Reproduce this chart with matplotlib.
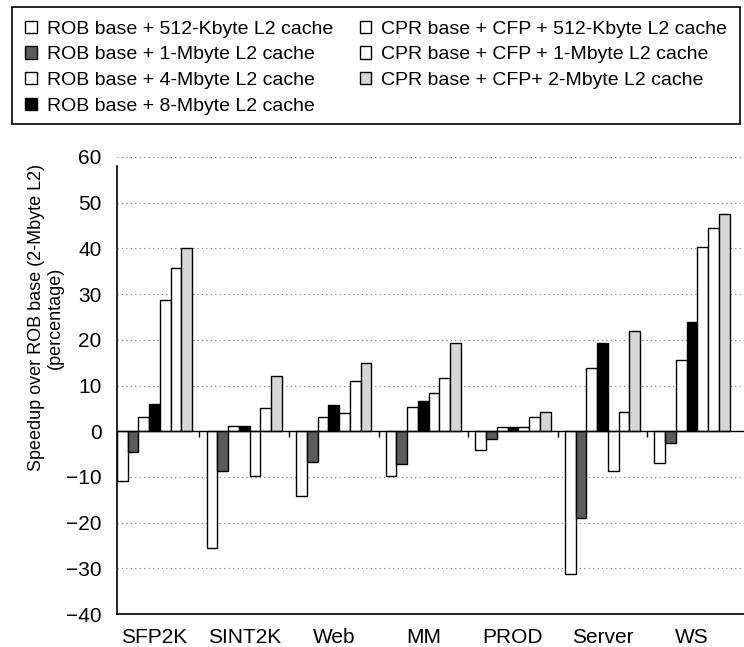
import numpy as np
import matplotlib
matplotlib.use("Agg")
import matplotlib.pyplot as plt

plt.rcParams['font.family'] = ['Liberation Sans', 'DejaVu Sans']

# Data (speedup in percent)
categories = ["SFP2K", "SINT2K", "Web", "MM", "PROD", "Server", "WS"]
rob_512k = [-11.0, -25.5, -14.2, -9.7, -4.2, -31.2, -7.0]
rob_1m = [-4.6, -8.7, -6.8, -7.2, -1.6, -19.0, -2.6]
rob_4m = [3.0, 1.2, 3.0, 5.4, 1.0, 13.9, 15.5]
rob_8m = [6.0, 1.2, 5.8, 6.7, 1.0, 19.3, 24.0]
cpr_512k = [28.8, -9.8, 4.0, 8.3, 1.0, -8.8, 40.3]
cpr_1m = [35.8, 5.0, 10.9, 11.7, 3.2, 4.2, 44.5]
cpr_2m = [40.0, 12.0, 15.0, 19.2, 4.3, 21.9, 47.5]

series = [rob_512k, rob_1m, rob_4m, rob_8m, cpr_512k, cpr_1m, cpr_2m]
labels = ["ROB base + 512-Kbyte L2 cache",
          "ROB base + 1-Mbyte L2 cache",
          "ROB base + 4-Mbyte L2 cache",
          "ROB base + 8-Mbyte L2 cache",
          "CPR base + CFP + 512-Kbyte L2 cache",
          "CPR base + CFP + 1-Mbyte L2 cache",
          "CPR base + CFP+ 2-Mbyte L2 cache"]
colors = ["white", "#5c5c5c", "white", "black", "white", "white", "#d6d6d6"]

fig = plt.figure(figsize=(7.44, 6.47), dpi=100)
ax = fig.add_axes([117 / 744, 33 / 647, 627 / 744, 457 / 647])

x = np.arange(len(categories))
w = 0.12
for j, (vals, lab, col) in enumerate(zip(series, labels, colors)):
    ax.bar(x + (j - 3) * w, vals, width=w, color=col, edgecolor="black",
           linewidth=1.0, label=lab, zorder=3)

ax.set_xlim(-0.42, 6.58)
ax.set_ylim(-40, 60)
ax.set_yticks(range(-40, 61, 10))
ax.set_yticklabels([str(v).replace("-", "\u2212") for v in range(-40, 61, 10)])
ax.set_xticks(x)
ax.set_xticklabels(categories)
ax.tick_params(axis="y", length=0, pad=11, labelsize=15)
ax.tick_params(axis="x", length=0, pad=10, labelsize=15)

ax.grid(axis="y", linestyle=(0, (1, 3)), color="#777777", linewidth=0.8, zorder=0)
ax.axhline(0, color="black", linewidth=1.0, zorder=4)
# small separator marks between groups
ax.vlines(x[:-1] + 0.5, -1.2, 0, color="black", linewidth=1.0, zorder=4)

for s in ["top", "right"]:
    ax.spines[s].set_visible(False)
ax.spines["left"].set_bounds(-40, 58)
ax.spines["left"].set_linewidth(1.2)
ax.spines["bottom"].set_linewidth(1.2)

ax.set_ylabel("Speedup over ROB base (2-Mbyte L2)\n(percentage)", fontsize=13,
              linespacing=1.1)
ax.yaxis.set_label_coords(-0.085, 0.648)

# legend without its own frame; the box is drawn separately
fig.legend(loc="upper left", bbox_to_anchor=(12 / 744, 1 - 14 / 647, 728 / 744, 0.01),
           mode="expand", ncol=2, fontsize=14, frameon=False,
           handlelength=0.6, handleheight=0.6, handletextpad=0.5,
           labelspacing=0.44, borderpad=0.68, borderaxespad=0)
fig.add_artist(plt.Rectangle((12 / 744, 1 - 124 / 647), 728 / 744, 117 / 647,
                             transform=fig.transFigure, fill=False,
                             edgecolor="black", linewidth=1.2))

fig.savefig("out.png", dpi=100)
